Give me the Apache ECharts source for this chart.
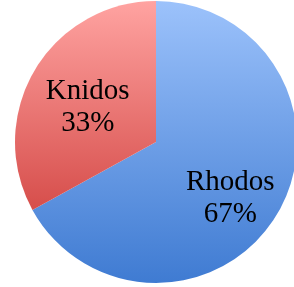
<!DOCTYPE html>
<html>
  <head>
    <meta charset="utf-8">
    <script src="https://cdn.jsdelivr.net/npm/echarts@6/dist/echarts.min.js"></script>
    <style>
      html, body { margin: 0; padding: 0; background: #fff; }
    </style>
  </head>
  <body>
    <div class="chart" style="width:294px;height:287px;"></div>
    <script>
      var names = ["Rhodos", "Knidos"];
      var values = [67, 33];
      var percents = ["67%", "33%"];

      function vgrad(top, bottom) {
        return new echarts.graphic.LinearGradient(0, 1, 0, 283, [
          { offset: 0, color: top },
          { offset: 1, color: bottom }
        ], true);
      }
      var fills = [vgrad("#9cc2fb", "#3f7bd2"), vgrad("#ffa3a1", "#c8302d")];

      var chart = echarts.init(document.getElementsByClassName("chart")[0], null, { renderer: 'canvas' });
      chart.setOption({
        animation: false,
        series: [{
          type: 'pie',
          center: [156, 142],
          radius: [0, 141],
          startAngle: 90,
          clockwise: true,
          silent: true,
          data: names.map(function (n, i) {
            return { name: n, value: values[i], itemStyle: { color: fills[i] } };
          }),
          label: {
            position: 'inner',
            formatter: function (p) { return p.name + "\n" + percents[p.dataIndex]; },
            fontFamily: "Liberation Serif",
            fontSize: 29,
            lineHeight: 32,
            color: "#000",
            align: 'center'
          },
          labelLine: { show: false },
          labelLayout: function (p) {
            if (p.dataIndex === 0) return { dx: 11, dy: 19 };
            return { dx: -5, dy: 3 };
          }
        }]
      });
    </script>
  </body>
</html>
